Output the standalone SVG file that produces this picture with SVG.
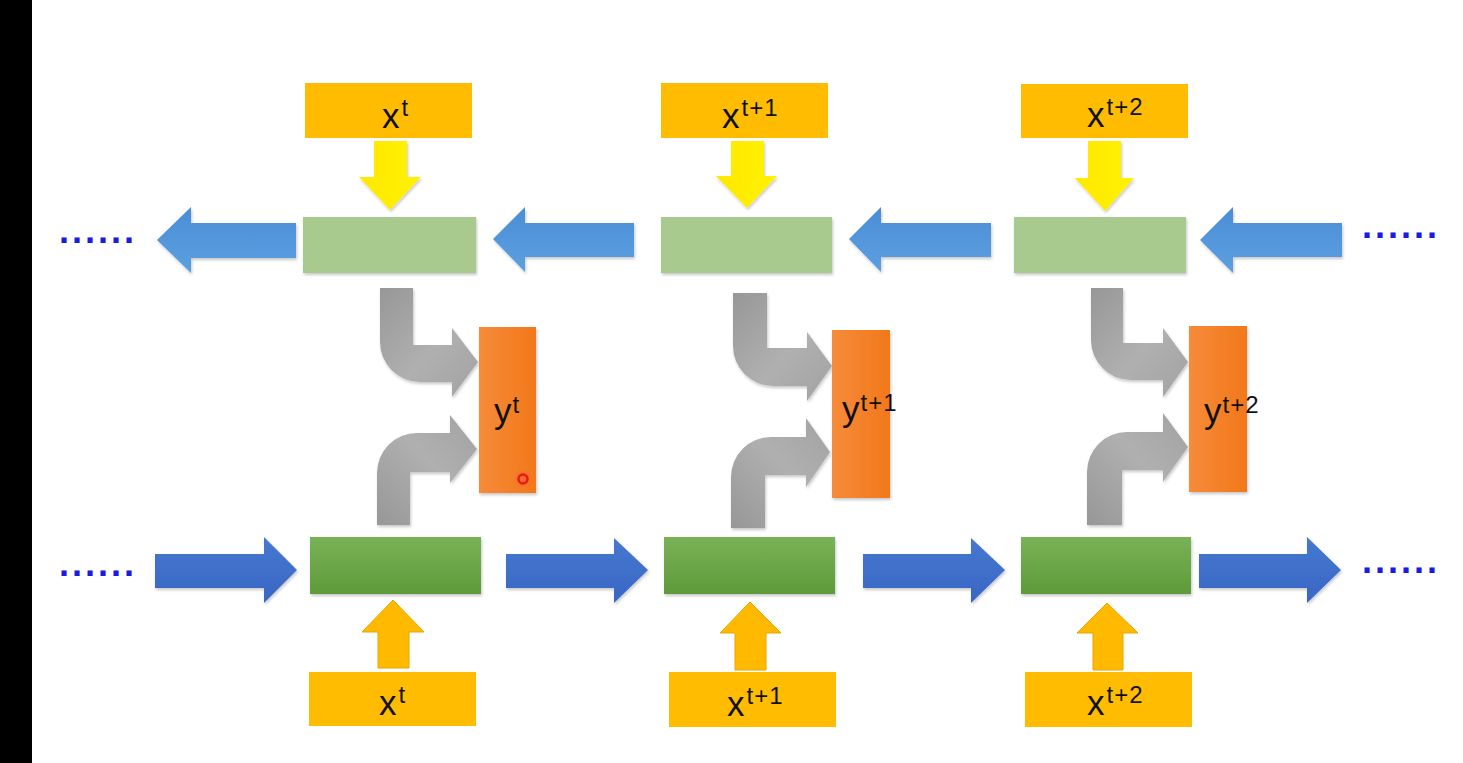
<svg xmlns="http://www.w3.org/2000/svg" width="1463" height="763" viewBox="0 0 1463 763">
<defs>
<style>
.xb{fill:#FFBC00}
.tg{fill:#A8CA8E}
.bg{fill:url(#gBot)}
.yb{fill:url(#gOr)}
.bt{fill:url(#gBlueT)}
.bb{fill:url(#gBlueB)}
.ya{fill:url(#gYel)}
.oa{fill:#FFBA00;stroke:#E8A600;stroke-width:1}
.gu{fill:url(#gGrayU)}
.gl{fill:url(#gGrayL)}
.lbl{font-family:"Liberation Sans",Arial,sans-serif;font-size:35px;fill:#111}
.sup{font-size:24px;letter-spacing:1px}
.dots{font-family:"Liberation Sans",Arial,sans-serif;font-size:36px;font-weight:bold;fill:#1A1AE0;letter-spacing:3px}
.sh{filter:url(#shadow)}
</style>
<filter id="shadow" x="-10%" y="-10%" width="130%" height="140%">
<feDropShadow dx="1" dy="2" stdDeviation="1.5" flood-color="#000" flood-opacity="0.22"/>
</filter>
<linearGradient id="gBot" x1="0" y1="0" x2="0" y2="1"><stop offset="0" stop-color="#79B257"/><stop offset="1" stop-color="#5E9A3A"/></linearGradient>
<linearGradient id="gOr" x1="0" y1="0" x2="1" y2="0"><stop offset="0" stop-color="#F68B3A"/><stop offset="1" stop-color="#F2781A"/></linearGradient>
<linearGradient id="gBlueT" x1="0" y1="0" x2="0" y2="1"><stop offset="0" stop-color="#4B8DD6"/><stop offset="1" stop-color="#5CA0E0"/></linearGradient>
<linearGradient id="gBlueB" x1="0" y1="0" x2="0" y2="1"><stop offset="0" stop-color="#4678D0"/><stop offset="1" stop-color="#3867C4"/></linearGradient>
<linearGradient id="gYel" x1="0" y1="0" x2="1" y2="0"><stop offset="0" stop-color="#FFE800"/><stop offset="1" stop-color="#FFF200"/></linearGradient>
<linearGradient id="gGrayU" x1="0" y1="0" x2="1" y2="1"><stop offset="0" stop-color="#979797"/><stop offset="0.55" stop-color="#B0B0B0"/><stop offset="1" stop-color="#A2A2A2"/></linearGradient>
<linearGradient id="gGrayL" x1="0" y1="1" x2="1" y2="0"><stop offset="0" stop-color="#979797"/><stop offset="0.55" stop-color="#B0B0B0"/><stop offset="1" stop-color="#A2A2A2"/></linearGradient>
<radialGradient id="gGlow"><stop offset="0" stop-color="#FF4040" stop-opacity="0.35"/><stop offset="1" stop-color="#FF4040" stop-opacity="0"/></radialGradient>
</defs>

<rect x="0" y="0" width="1463" height="763" fill="#FFFFFF"/>
<rect x="0" y="0" width="32" height="763" fill="#000000"/>

<g id="connectors">
<!-- top row blue arrows (leftwards) -->
<path class="bt sh" d="M296,223 H191 V207 L157,240 L191,273 V258 H296 Z"/>
<path class="bt sh" d="M634,223 H525 V207 L493,239 L525,272 V257 H634 Z"/>
<path class="bt sh" d="M991,223 H881 V207 L849,239 L881,272 V257 H991 Z"/>
<path class="bt sh" d="M1342,223 H1233 V207 L1200,240 L1233,273 V257 H1342 Z"/>
<!-- bottom row blue arrows (rightwards) -->
<path class="bb sh" d="M155,554 H264 V537 L297,570 L264,603 V588 H155 Z"/>
<path class="bb sh" d="M506,554 H614 V538 L648,570 L614,603 V588 H506 Z"/>
<path class="bb sh" d="M863,554 H971 V538 L1005,570 L971,603 V588 H863 Z"/>
<path class="bb sh" d="M1199,554 H1307 V537 L1341,570 L1307,603 V588 H1199 Z"/>
<!-- yellow down arrows -->
<path class="ya sh" d="M374,141 H407 V177 H421 L390,210 L359,177 H374 Z"/>
<path class="ya sh" d="M731,141 H764 V176 H777 L747,208 L716,176 H731 Z"/>
<path class="ya sh" d="M1088,141 H1121 V178 H1134 L1105,211 L1075,178 H1088 Z"/>
<!-- orange up arrows -->
<path class="oa" d="M378,668 V632 H362 L393,600 L424,632 H409 V668 Z"/>
<path class="oa" d="M735,670 V633 H720 L750,602 L781,633 H766 V670 Z"/>
<path class="oa" d="M1093,670 V633 H1077 L1107,603 L1138,633 H1123 V670 Z"/>
<!-- gray bent arrows: upper (from top cells to y) -->
<path class="gu sh" d="M380,288 H413 V345 H452 V328 L478,362 L452,397 V382 H420 A40,40 0 0 1 380,342 Z"/>
<path class="gu sh" d="M733,293 H767 V348 H807 V332 L832,366 L807,401 V386 H773 A40,40 0 0 1 733,346 Z"/>
<path class="gu sh" d="M1091,288 H1123 V343 H1163 V328 L1188,362 L1163,397 V380 H1131 A40,40 0 0 1 1091,340 Z"/>
<!-- gray bent arrows: lower (from bottom cells to y) -->
<path class="gl sh" d="M377,525 V473 A40,40 0 0 1 417,433 H450 V415 L477,449 L450,483 V472 H410 V525 Z"/>
<path class="gl sh" d="M731,528 V477 A40,40 0 0 1 771,437 H806 V418 L830,452 L806,487 V475 H765 V528 Z"/>
<path class="gl sh" d="M1087,525 V472 A40,40 0 0 1 1127,432 H1163 V413 L1188,447 L1163,482 V470 H1122 V525 Z"/>
</g>

<g id="x-top-t">
<rect class="xb" x="305" y="83" width="167" height="55"/>
<text class="lbl" x="382" y="128">x<tspan class="sup" dx="2" dy="-12">t</tspan></text>
</g>
<g id="x-top-t1">
<rect class="xb" x="661" y="83" width="167" height="55"/>
<text class="lbl" x="722" y="128">x<tspan class="sup" dx="2" dy="-12">t+1</tspan></text>
</g>
<g id="x-top-t2">
<rect class="xb" x="1021" y="84" width="167" height="54"/>
<text class="lbl" x="1087" y="127">x<tspan class="sup" dx="2" dy="-12">t+2</tspan></text>
</g>

<g id="back-t"><rect class="tg sh" x="303" y="217" width="173" height="56"/></g>
<g id="back-t1"><rect class="tg sh" x="661" y="217" width="171" height="56"/></g>
<g id="back-t2"><rect class="tg sh" x="1014" y="217" width="172" height="56"/></g>

<g id="fwd-t"><rect class="bg sh" x="310" y="537" width="171" height="57"/></g>
<g id="fwd-t1"><rect class="bg sh" x="664" y="537" width="171" height="57"/></g>
<g id="fwd-t2"><rect class="bg sh" x="1021" y="537" width="170" height="57"/></g>

<g id="y-t">
<rect class="yb sh" x="479" y="327" width="57" height="166"/>
<text class="lbl" x="494" y="423">y<tspan class="sup" dx="1" dy="-10">t</tspan></text>
</g>
<g id="y-t1">
<rect class="yb sh" x="832" y="330" width="58" height="168"/>
<text class="lbl" x="842" y="421">y<tspan class="sup" dx="1" dy="-10">t+1</tspan></text>
</g>
<g id="y-t2">
<rect class="yb sh" x="1189" y="326" width="58" height="166"/>
<text class="lbl" x="1204" y="423">y<tspan class="sup" dx="1" dy="-10">t+2</tspan></text>
</g>

<g id="x-bot-t">
<rect class="xb" x="309" y="672" width="167" height="54"/>
<text class="lbl" x="379" y="715">x<tspan class="sup" dx="2" dy="-12">t</tspan></text>
</g>
<g id="x-bot-t1">
<rect class="xb" x="669" y="672" width="167" height="55"/>
<text class="lbl" x="727" y="716">x<tspan class="sup" dx="2" dy="-12">t+1</tspan></text>
</g>
<g id="x-bot-t2">
<rect class="xb" x="1025" y="672" width="167" height="55"/>
<text class="lbl" x="1087" y="715">x<tspan class="sup" dx="2" dy="-12">t+2</tspan></text>
</g>

<g id="ellipses">
<text class="dots" x="59" y="243">......</text>
<text class="dots" x="59" y="576">......</text>
<text class="dots" x="1362" y="238">......</text>
<text class="dots" x="1362" y="573">......</text>
</g>

<circle cx="523" cy="479" r="10" fill="url(#gGlow)"/>
<circle cx="523" cy="479" r="4.5" fill="none" stroke="#E81818" stroke-width="2.5"/>
</svg>
